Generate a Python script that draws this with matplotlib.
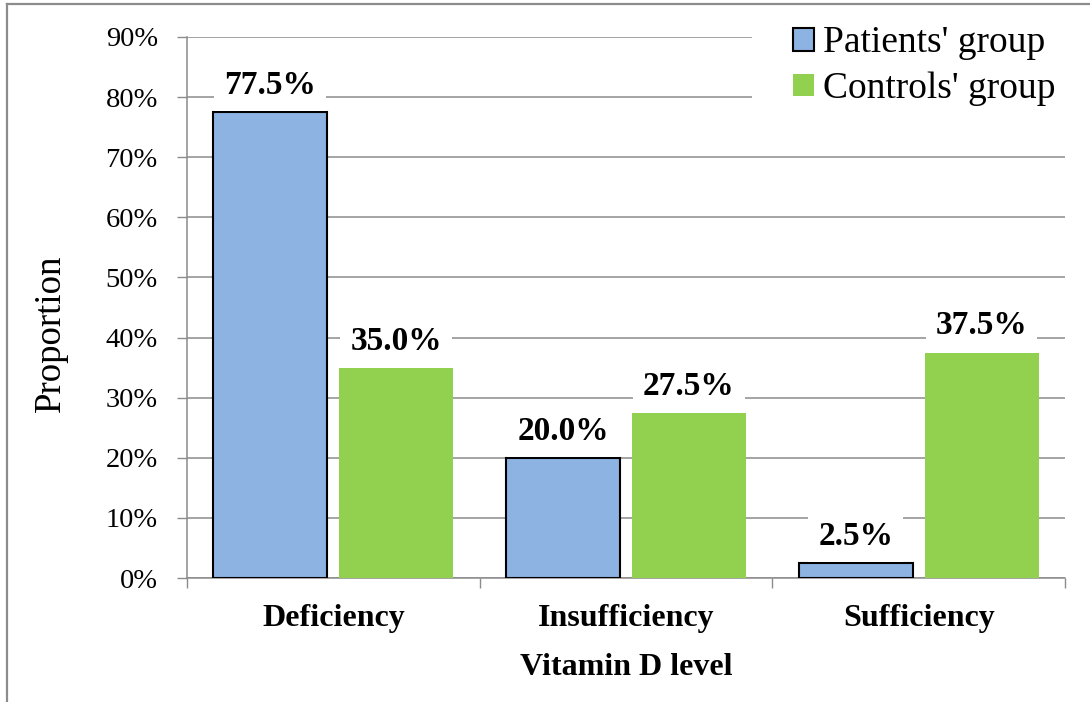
import numpy as np
import matplotlib
matplotlib.use("Agg")
import matplotlib.pyplot as plt
from matplotlib.patches import Rectangle
from matplotlib.lines import Line2D

categories = ["Deficiency", "Insufficiency", "Sufficiency"]
patients = [77.5, 20.0, 2.5]
controls = [35.0, 27.5, 37.5]
series_names = ["Patients' group", "Controls' group"]
y_ticks = [0, 10, 20, 30, 40, 50, 60, 70, 80, 90]

plt.rcParams['font.family'] = ['Liberation Serif', 'DejaVu Serif']

blue = '#8DB3E2'
green = '#92D050'
grid_c = '#8C8C8C'

fig = plt.figure(figsize=(10.9, 7.02), dpi=100)
ax = fig.add_axes([187/1090, 1 - 578/702, (1065 - 187)/1090, (578 - 37)/702])

x = np.arange(len(categories))
w = 0.39
off = 0.215
b1 = ax.bar(x - off, patients, w, color=blue, edgecolor='black', linewidth=1.5, zorder=3)
b2 = ax.bar(x + off, controls, w, color=green, edgecolor='none', zorder=3)

for bars, vals in [(b1, patients), (b2, controls)]:
    for r, v in zip(bars, vals):
        ax.annotate(f"{v:.1f}%", (r.get_x() + r.get_width()/2, v),
                    xytext=(0, 8), textcoords='offset points',
                    ha='center', va='bottom', fontsize=24, fontweight='bold',
                    bbox=dict(boxstyle='square,pad=0.3', fc='white', ec='none'),
                    zorder=4)

ax.set_xlim(-0.5, 2.5)
ax.set_ylim(0, 90)
ax.set_yticks(y_ticks)
ax.set_yticklabels([f"{t}%" for t in y_ticks], fontsize=20.5)
ax.set_xticks(x)
ax.set_xticklabels(categories, fontsize=23, fontweight='bold')
ax.set_xticks([-0.5, 0.5, 1.5, 2.5], minor=True)
ax.tick_params(axis='x', which='major', length=0, pad=19)
ax.tick_params(axis='x', which='minor', length=7, width=1.0, color=grid_c, direction='out')
ax.tick_params(axis='y', length=7, width=1.0, color=grid_c, direction='out', pad=14)

ax.grid(axis='y', color=grid_c, linewidth=1.1, zorder=0)
ax.set_axisbelow(True)
for s in ['top', 'right']:
    ax.spines[s].set_visible(False)
for s in ['left', 'bottom']:
    ax.spines[s].set_color(grid_c)
    ax.spines[s].set_linewidth(1.1)

ax.set_xlabel("Vitamin D level", fontsize=23, fontweight='bold', labelpad=14)
ax.set_ylabel("Proportion", fontsize=26.5)
ax.yaxis.set_label_coords(-0.136, 0.452)

# white area behind legend covering gridlines
fig.patches.append(Rectangle((752/1090, 1 - 112/702), 1.0, 97/702,
                             transform=fig.transFigure, fc='white', ec='none', zorder=1))

handles = [Rectangle((0, 0), 1, 1, fc=blue, ec='black', lw=1.5),
           Rectangle((0, 0), 1, 1, fc=green, ec='none')]
leg = fig.legend(handles, series_names, loc='upper left',
                 bbox_to_anchor=(793/1090, 1 - 26/702), frameon=False,
                 fontsize=27, borderpad=0, borderaxespad=0,
                 handlelength=0.55, handleheight=0.55, handletextpad=0.25,
                 labelspacing=0.3)
leg.set_zorder(5)

# outer chart border (left and top visible)
fig.add_artist(Line2D([7/1090, 7/1090], [0, 1 - 4/702], transform=fig.transFigure,
                      color='#8C8C8C', lw=1.6))
fig.add_artist(Line2D([7/1090, 1], [1 - 4/702, 1 - 4/702], transform=fig.transFigure,
                      color='#8C8C8C', lw=1.6))

fig.savefig("out.png", dpi=100)
